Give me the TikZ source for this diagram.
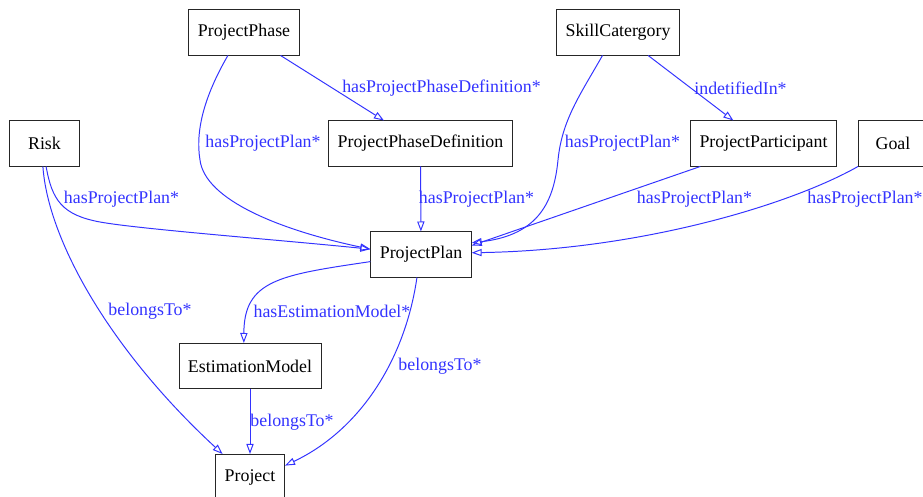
\documentclass[tikz,border=0pt]{standalone}
\usepackage{fontspec}
\setmainfont{Liberation Serif}
\usetikzlibrary{arrows.meta}
\definecolor{edgeblue}{RGB}{51,51,255}
\begin{document}
\begin{tikzpicture}[x=0.025cm,y=-0.025cm,
    cls/.style={draw=black!85,line width=0.7pt,fill=white,inner xsep=0.225cm,
      minimum width=1.725cm,minimum height=1.125cm,font=\fontsize{12.7}{15}\selectfont},
    rel/.style={draw=edgeblue,line width=0.7pt,-{Triangle[open,length=0.25cm,width=0.18cm]}},
    lbl/.style={text=edgeblue,inner sep=0pt,font=\fontsize{12.7}{15}\selectfont}]
  \useasboundingbox (0,0) rectangle (923,497);
  % 类
  \node[cls] (phase) at (244,32.5) {ProjectPhase};
  \node[cls] (skill) at (618,32.5) {SkillCatergory};
  \node[cls] (risk) at (44.5,143.5) {Risk};
  \node[cls] (ppd) at (420.5,143.5) {ProjectPhaseDefinition};
  \node[cls] (part) at (763.5,143.5) {ProjectParticipant};
  \node[cls] (goal) at (893,143.5) {Goal};
  \node[cls] (plan) at (421,254.5) {ProjectPlan};
  \node[cls] (em) at (250,366) {EstimationModel};
  \node[cls] (proj) at (250,477) {Project};
  % 关系
  \draw[rel] (phase) -- (ppd);
  \draw[rel] (skill) -- (part);
  \draw[rel] (ppd) -- (plan);
  \draw[rel] (em) -- (proj);
  \draw[rel] (part.200) -- (plan.10);
  \draw[rel] (phase.-125) .. controls (205,95) and (195,130) .. (200,160)
    .. controls (205,200) and (280,230) .. (plan.174);
  \draw[rel] (risk.-86) .. controls (52,200) and (62,215) .. (100,222)
    .. controls (138,229) and (280,240) .. (plan.174);
  \draw[rel] (risk.-94) .. controls (48,240) and (110,350) .. (proj.140);
  \draw[rel] (skill.-124) .. controls (580,95) and (562,120) .. (558,160)
    .. controls (554,200) and (540,235) .. (plan.13);
  \draw[rel] (goal.south west) .. controls (790,205) and (640,250) .. (plan.2);
  \draw[rel] (plan.188) .. controls (280,275) and (244,280) .. (em.105);
  \draw[rel] (plan.-100) .. controls (405,360) and (360,430) .. (proj.18);
  % 标签
  \node[lbl] (lphaseplan) at (263,143) {hasProjectPlan*};
  \node[lbl] (lphaseppd) at (441.5,88) {hasProjectPhaseDefinition*};
  \node[lbl] (lppdplan) at (476.5,199) {hasProjectPlan*};
  \node[lbl] (lriskplan) at (121.5,199) {hasProjectPlan*};
  \node[lbl] (lriskproj) at (150,311) {belongsTo*};
  \node[lbl] (lskillplan) at (622.5,143) {hasProjectPlan*};
  \node[lbl] (lskillpart) at (740.5,88) {indetifiedIn*};
  \node[lbl] (lpartplan) at (694.5,199) {hasProjectPlan*};
  \node[lbl] (lgoalplan) at (865,199) {hasProjectPlan*};
  \node[lbl] (lplanem) at (332,311) {hasEstimationModel*};
  \node[lbl] (lplanproj) at (440,366.5) {belongsTo*};
  \node[lbl] (lemproj) at (292,422) {belongsTo*};
\end{tikzpicture}
\end{document}
